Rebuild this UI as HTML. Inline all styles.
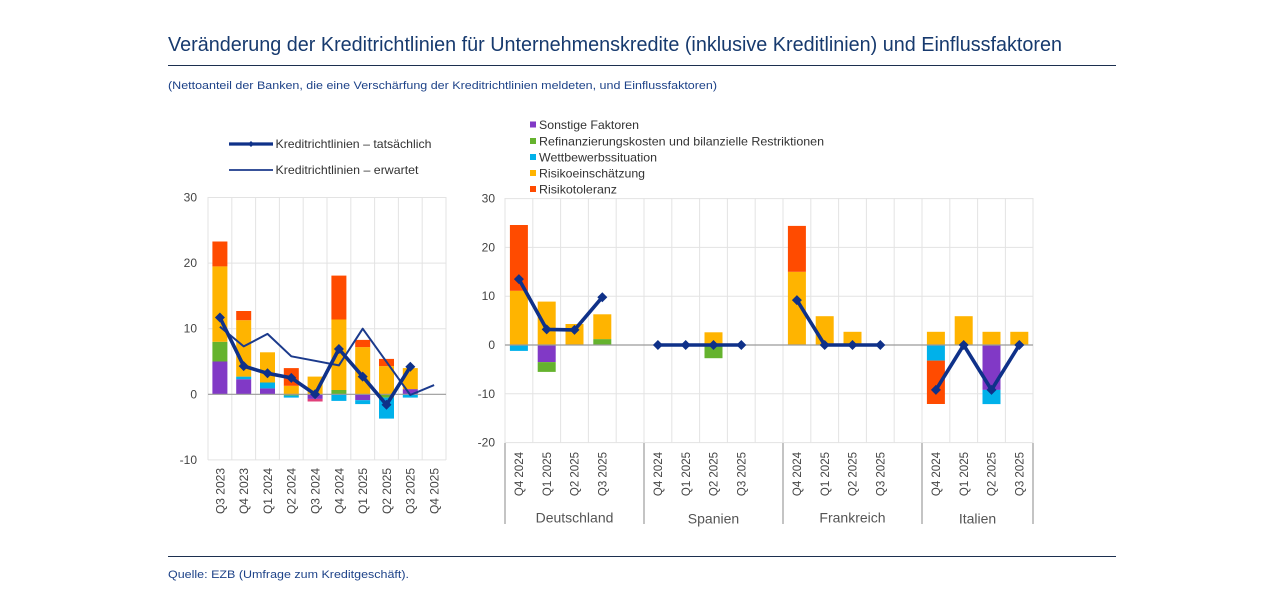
<!DOCTYPE html>
<html><head><meta charset="utf-8"><style>
html,body{margin:0;padding:0;background:#fff;}
svg{display:block;}
text{font-family:"Liberation Sans",Arial,sans-serif;}
</style></head><body>
<svg width="1280" height="615" viewBox="0 0 1280 615" xmlns="http://www.w3.org/2000/svg">
<rect width="1280" height="615" fill="#fff"/>
<!-- Header -->
<text x="168" y="51" font-size="20" fill="#173a6e" textLength="894" lengthAdjust="spacingAndGlyphs">Veränderung der Kreditrichtlinien für Unternehmenskredite (inklusive Kreditlinien) und Einflussfaktoren</text>
<line x1="168" y1="65.5" x2="1116" y2="65.5" stroke="#1c2f4f" stroke-width="1"/>
<text x="168" y="89" font-size="11" fill="#1d4288" textLength="549" lengthAdjust="spacingAndGlyphs">(Nettoanteil der Banken, die eine Verschärfung der Kreditrichtlinien meldeten, und Einflussfaktoren)</text>
<line x1="168" y1="556.5" x2="1116" y2="556.5" stroke="#1c2f4f" stroke-width="1"/>
<text x="168" y="578" font-size="11" fill="#1d4288" textLength="241" lengthAdjust="spacingAndGlyphs">Quelle: EZB (Umfrage zum Kreditgeschäft).</text>

<!-- LEFT CHART -->
<g stroke="#e3e3e3" stroke-width="1">
<line x1="208" y1="197.5" x2="446" y2="197.5"/>
<line x1="208" y1="263.1" x2="446" y2="263.1"/>
<line x1="208" y1="328.7" x2="446" y2="328.7"/>
<line x1="208" y1="459.9" x2="446" y2="459.9"/>
<line x1="208" y1="197" x2="208" y2="460"/>
<line x1="231.8" y1="197" x2="231.8" y2="460"/>
<line x1="255.6" y1="197" x2="255.6" y2="460"/>
<line x1="279.4" y1="197" x2="279.4" y2="460"/>
<line x1="303.2" y1="197" x2="303.2" y2="460"/>
<line x1="327" y1="197" x2="327" y2="460"/>
<line x1="350.8" y1="197" x2="350.8" y2="460"/>
<line x1="374.6" y1="197" x2="374.6" y2="460"/>
<line x1="398.4" y1="197" x2="398.4" y2="460"/>
<line x1="422.2" y1="197" x2="422.2" y2="460"/>
<line x1="446" y1="197" x2="446" y2="460"/>
</g>
<g font-size="12" fill="#444" text-anchor="end">
<text x="197" y="201.5">30</text>
<text x="197" y="267">20</text>
<text x="197" y="332.7">10</text>
<text x="197" y="398.3">0</text>
<text x="197" y="464">-10</text>
</g>
<!-- left bars -->
<g>
<rect x="212.4" y="361.5" width="15" height="32.8" fill="#8139c6"/>
<rect x="212.4" y="341.8" width="15" height="19.7" fill="#65b32e"/>
<rect x="212.4" y="266.4" width="15" height="75.4" fill="#ffb400"/>
<rect x="212.4" y="241.5" width="15" height="24.9" fill="#ff4b00"/>

<rect x="236.2" y="379.2" width="15" height="15.1" fill="#8139c6"/>
<rect x="236.2" y="376.6" width="15" height="2.6" fill="#00b1ea"/>
<rect x="236.2" y="320.2" width="15" height="56.4" fill="#ffb400"/>
<rect x="236.2" y="311.0" width="15" height="9.2" fill="#ff4b00"/>

<rect x="260" y="388.4" width="15" height="5.9" fill="#8139c6"/>
<rect x="260" y="382.5" width="15" height="5.9" fill="#00b1ea"/>
<rect x="260" y="352.3" width="15" height="30.2" fill="#ffb400"/>

<rect x="283.8" y="385.8" width="15" height="8.5" fill="#ffb400"/>
<rect x="283.8" y="368.1" width="15" height="17.7" fill="#ff4b00"/>
<rect x="283.8" y="394.3" width="15" height="1.3" fill="#65b32e"/>
<rect x="283.8" y="395.6" width="15" height="2.0" fill="#00b1ea"/>

<rect x="307.6" y="376.6" width="15" height="17.7" fill="#ffb400"/>
<rect x="307.6" y="394.3" width="15" height="4.6" fill="#8139c6"/>
<rect x="307.6" y="398.9" width="15" height="2.6" fill="#e0407a"/>

<rect x="331.4" y="390.0" width="15" height="4.3" fill="#65b32e"/>
<rect x="331.4" y="319.5" width="15" height="70.5" fill="#ffb400"/>
<rect x="331.4" y="275.6" width="15" height="43.9" fill="#ff4b00"/>
<rect x="331.4" y="394.3" width="15" height="6.6" fill="#00b1ea"/>

<rect x="355.2" y="347.1" width="15" height="47.2" fill="#ffb400"/>
<rect x="355.2" y="339.9" width="15" height="7.2" fill="#ff4b00"/>
<rect x="355.2" y="394.3" width="15" height="5.9" fill="#8139c6"/>
<rect x="355.2" y="400.2" width="15" height="3.9" fill="#00b1ea"/>

<rect x="379" y="366.1" width="15" height="28.2" fill="#ffb400"/>
<rect x="379" y="358.9" width="15" height="7.2" fill="#ff4b00"/>
<rect x="379" y="394.3" width="15" height="3.3" fill="#65b32e"/>
<rect x="379" y="397.6" width="15" height="21.0" fill="#00b1ea"/>

<rect x="402.8" y="389.1" width="15" height="5.2" fill="#8139c6"/>
<rect x="402.8" y="368.1" width="15" height="21.0" fill="#ffb400"/>
<rect x="402.8" y="394.3" width="15" height="3.3" fill="#00b1ea"/>
</g>
<line x1="208" y1="394.3" x2="446" y2="394.3" stroke="#9a9a9a" stroke-width="1.2"/>
<!-- expected line -->
<polyline fill="none" stroke="#1b3a8c" stroke-width="2" stroke-linejoin="round" points="219.9,326.7 243.7,346.4 267.5,333.9 291.3,356.3 315.1,360.8 338.9,365.4 362.7,328.7 386.5,361.8 410.3,395.0 434.1,385.1"/>
<!-- actual line -->
<polyline fill="none" stroke="#0f3189" stroke-width="3.6" stroke-linejoin="round" points="219.9,317.5 243.7,366.1 267.5,373.3 291.3,377.9 315.1,394.3 338.9,349.0 362.7,376.6 386.5,404.8 410.3,366.8"/>
<g fill="#0f3189">
<path d="M219.9,312.5 L224.9,317.5 L219.9,322.5 L214.9,317.5Z"/>
<path d="M243.7,361.1 L248.7,366.1 L243.7,371.1 L238.7,366.1Z"/>
<path d="M267.5,368.3 L272.5,373.3 L267.5,378.3 L262.5,373.3Z"/>
<path d="M291.3,372.9 L296.3,377.9 L291.3,382.9 L286.3,377.9Z"/>
<path d="M315.1,389.3 L320.1,394.3 L315.1,399.3 L310.1,394.3Z"/>
<path d="M338.9,344.0 L343.9,349.0 L338.9,354.0 L333.9,349.0Z"/>
<path d="M362.7,371.6 L367.7,376.6 L362.7,381.6 L357.7,376.6Z"/>
<path d="M386.5,399.8 L391.5,404.8 L386.5,409.8 L381.5,404.8Z"/>
<path d="M410.3,361.8 L415.3,366.8 L410.3,371.8 L405.3,366.8Z"/>
</g>
<!-- left x labels -->
<g font-size="12" fill="#444" text-anchor="end">
<text transform="translate(224.3,468) rotate(-90)">Q3 2023</text>
<text transform="translate(248.1,468) rotate(-90)">Q4 2023</text>
<text transform="translate(271.9,468) rotate(-90)">Q1 2024</text>
<text transform="translate(295.7,468) rotate(-90)">Q2 2024</text>
<text transform="translate(319.5,468) rotate(-90)">Q3 2024</text>
<text transform="translate(343.3,468) rotate(-90)">Q4 2024</text>
<text transform="translate(367.1,468) rotate(-90)">Q1 2025</text>
<text transform="translate(390.9,468) rotate(-90)">Q2 2025</text>
<text transform="translate(414.7,468) rotate(-90)">Q3 2025</text>
<text transform="translate(438.5,468) rotate(-90)">Q4 2025</text>
</g>
<!-- left legend -->
<line x1="229" y1="144" x2="273" y2="144" stroke="#0f3189" stroke-width="3.2"/>
<path d="M251,141 L254,144 L251,147 L248,144Z" fill="#0f3189"/>
<text x="275.5" y="148" font-size="12" fill="#333" textLength="156" lengthAdjust="spacingAndGlyphs">Kreditrichtlinien – tatsächlich</text>
<line x1="229" y1="170" x2="273" y2="170" stroke="#1b3a8c" stroke-width="1.8"/>
<text x="275.5" y="174" font-size="12" fill="#333" textLength="143" lengthAdjust="spacingAndGlyphs">Kreditrichtlinien – erwartet</text>

<!-- RIGHT CHART -->
<g stroke="#e3e3e3" stroke-width="1">
<line x1="505" y1="198.6" x2="1033" y2="198.6"/>
<line x1="505" y1="247.4" x2="1033" y2="247.4"/>
<line x1="505" y1="296.2" x2="1033" y2="296.2"/>
<line x1="505" y1="393.8" x2="1033" y2="393.8"/>
<line x1="505" y1="442.6" x2="1033" y2="442.6"/>
<line x1="532.8" y1="198" x2="532.8" y2="443"/>
<line x1="560.6" y1="198" x2="560.6" y2="443"/>
<line x1="588.4" y1="198" x2="588.4" y2="443"/>
<line x1="616.2" y1="198" x2="616.2" y2="443"/>
<line x1="671.8" y1="198" x2="671.8" y2="443"/>
<line x1="699.6" y1="198" x2="699.6" y2="443"/>
<line x1="727.4" y1="198" x2="727.4" y2="443"/>
<line x1="755.2" y1="198" x2="755.2" y2="443"/>
<line x1="810.8" y1="198" x2="810.8" y2="443"/>
<line x1="838.6" y1="198" x2="838.6" y2="443"/>
<line x1="866.4" y1="198" x2="866.4" y2="443"/>
<line x1="894.2" y1="198" x2="894.2" y2="443"/>
<line x1="949.8" y1="198" x2="949.8" y2="443"/>
<line x1="977.6" y1="198" x2="977.6" y2="443"/>
<line x1="1005.4" y1="198" x2="1005.4" y2="443"/>
<line x1="644" y1="198" x2="644" y2="443"/>
<line x1="783" y1="198" x2="783" y2="443"/>
<line x1="922" y1="198" x2="922" y2="443"/>
<line x1="505" y1="198" x2="505" y2="443"/>
<line x1="1033" y1="198" x2="1033" y2="443"/>
</g>
<g stroke="#a5a5a5" stroke-width="1.3">
<line x1="505" y1="443" x2="505" y2="524"/>
<line x1="644" y1="443" x2="644" y2="524"/>
<line x1="783" y1="443" x2="783" y2="524"/>
<line x1="922" y1="443" x2="922" y2="524"/>
<line x1="1033" y1="443" x2="1033" y2="524"/>
</g>
<g font-size="12" fill="#444" text-anchor="end">
<text x="495" y="202.6">30</text>
<text x="495" y="251.4">20</text>
<text x="495" y="300.2">10</text>
<text x="495" y="349">0</text>
<text x="495" y="397.8">-10</text>
<text x="495" y="446.6">-20</text>
</g>
<!-- right bars -->
<g>
<rect x="509.9" y="290.8" width="18" height="54.2" fill="#ffb400"/>
<rect x="509.9" y="225.0" width="18" height="65.8" fill="#ff4b00"/>
<rect x="509.9" y="345" width="18" height="5.9" fill="#00b1ea"/>

<rect x="537.7" y="301.6" width="18" height="43.4" fill="#ffb400"/>
<rect x="537.7" y="345" width="18" height="17.1" fill="#8139c6"/>
<rect x="537.7" y="362.1" width="18" height="9.8" fill="#65b32e"/>

<rect x="565.5" y="324.0" width="18" height="21.0" fill="#ffb400"/>

<rect x="593.3" y="339.1" width="18" height="5.9" fill="#65b32e"/>
<rect x="593.3" y="314.3" width="18" height="24.8" fill="#ffb400"/>

<rect x="704.5" y="332.3" width="18" height="12.7" fill="#ffb400"/>
<rect x="704.5" y="345" width="18" height="13.2" fill="#65b32e"/>

<rect x="787.9" y="271.8" width="18" height="73.2" fill="#ffb400"/>
<rect x="787.9" y="225.9" width="18" height="45.9" fill="#ff4b00"/>
<rect x="815.7" y="316.2" width="18" height="28.8" fill="#ffb400"/>
<rect x="843.5" y="331.8" width="18" height="13.2" fill="#ffb400"/>

<rect x="926.9" y="331.8" width="18" height="13.2" fill="#ffb400"/>
<rect x="926.9" y="345" width="18" height="15.6" fill="#00b1ea"/>
<rect x="926.9" y="360.6" width="18" height="43.4" fill="#ff4b00"/>
<rect x="954.7" y="316.2" width="18" height="28.8" fill="#ffb400"/>
<rect x="982.5" y="331.8" width="18" height="13.2" fill="#ffb400"/>
<rect x="982.5" y="345" width="18" height="44.9" fill="#8139c6"/>
<rect x="982.5" y="389.9" width="18" height="14.2" fill="#00b1ea"/>
<rect x="1010.3" y="331.8" width="18" height="13.2" fill="#ffb400"/>
</g>
<line x1="505" y1="345" x2="1033" y2="345" stroke="#9a9a9a" stroke-width="1.2"/>
<g fill="none" stroke="#0f3189" stroke-width="3.6" stroke-linejoin="round">
<polyline points="518.9,279.1 546.7,329.4 574.5,329.9 602.3,297.2"/>
<polyline points="657.9,345 685.7,345 713.5,345 741.3,345"/>
<polyline points="796.9,300.1 824.7,345 852.5,345 880.3,345"/>
<polyline points="935.9,389.9 963.7,345 991.5,389.9 1019.3,345"/>
</g>
<g fill="#0f3189">
<path d="M518.9,274.1 L523.9,279.1 L518.9,284.1 L513.9,279.1Z"/>
<path d="M546.7,324.4 L551.7,329.4 L546.7,334.4 L541.7,329.4Z"/>
<path d="M574.5,324.9 L579.5,329.9 L574.5,334.9 L569.5,329.9Z"/>
<path d="M602.3,292.2 L607.3,297.2 L602.3,302.2 L597.3,297.2Z"/>
<path d="M657.9,340 L662.9,345 L657.9,350 L652.9,345Z"/>
<path d="M685.7,340 L690.7,345 L685.7,350 L680.7,345Z"/>
<path d="M713.5,340 L718.5,345 L713.5,350 L708.5,345Z"/>
<path d="M741.3,340 L746.3,345 L741.3,350 L736.3,345Z"/>
<path d="M796.9,295.1 L801.9,300.1 L796.9,305.1 L791.9,300.1Z"/>
<path d="M824.7,340 L829.7,345 L824.7,350 L819.7,345Z"/>
<path d="M852.5,340 L857.5,345 L852.5,350 L847.5,345Z"/>
<path d="M880.3,340 L885.3,345 L880.3,350 L875.3,345Z"/>
<path d="M935.9,384.9 L940.9,389.9 L935.9,394.9 L930.9,389.9Z"/>
<path d="M963.7,340 L968.7,345 L963.7,350 L958.7,345Z"/>
<path d="M991.5,384.9 L996.5,389.9 L991.5,394.9 L986.5,389.9Z"/>
<path d="M1019.3,340 L1024.3,345 L1019.3,350 L1014.3,345Z"/>
</g>
<!-- right x labels -->
<g font-size="11.5" fill="#444" text-anchor="end">
<text transform="translate(523.1,452) rotate(-90)">Q4 2024</text>
<text transform="translate(550.9,452) rotate(-90)">Q1 2025</text>
<text transform="translate(578.7,452) rotate(-90)">Q2 2025</text>
<text transform="translate(606.5,452) rotate(-90)">Q3 2025</text>
<text transform="translate(662.1,452) rotate(-90)">Q4 2024</text>
<text transform="translate(689.9,452) rotate(-90)">Q1 2025</text>
<text transform="translate(717.7,452) rotate(-90)">Q2 2025</text>
<text transform="translate(745.5,452) rotate(-90)">Q3 2025</text>
<text transform="translate(801.1,452) rotate(-90)">Q4 2024</text>
<text transform="translate(828.9,452) rotate(-90)">Q1 2025</text>
<text transform="translate(856.7,452) rotate(-90)">Q2 2025</text>
<text transform="translate(884.5,452) rotate(-90)">Q3 2025</text>
<text transform="translate(940.1,452) rotate(-90)">Q4 2024</text>
<text transform="translate(967.9,452) rotate(-90)">Q1 2025</text>
<text transform="translate(995.7,452) rotate(-90)">Q2 2025</text>
<text transform="translate(1023.5,452) rotate(-90)">Q3 2025</text>
</g>
<g font-size="14" fill="#555" text-anchor="middle">
<text x="574.5" y="522.5">Deutschland</text>
<text x="713.5" y="523.5">Spanien</text>
<text x="852.5" y="522.5">Frankreich</text>
<text x="977.5" y="523.5">Italien</text>
</g>
<!-- right legend -->
<rect x="530" y="121.5" width="6" height="6" fill="#8139c6"/>
<text x="539" y="129" font-size="12" fill="#333" textLength="100" lengthAdjust="spacingAndGlyphs">Sonstige Faktoren</text>
<rect x="530" y="138" width="6" height="6" fill="#65b32e"/>
<text x="539" y="145.5" font-size="12" fill="#333" textLength="285" lengthAdjust="spacingAndGlyphs">Refinanzierungskosten und bilanzielle Restriktionen</text>
<rect x="530" y="154" width="6" height="6" fill="#00b1ea"/>
<text x="539" y="161.5" font-size="12" fill="#333" textLength="118" lengthAdjust="spacingAndGlyphs">Wettbewerbssituation</text>
<rect x="530" y="170" width="6" height="6" fill="#ffb400"/>
<text x="539" y="177.5" font-size="12" fill="#333" textLength="106" lengthAdjust="spacingAndGlyphs">Risikoeinschätzung</text>
<rect x="530" y="186" width="6" height="6" fill="#ff4b00"/>
<text x="539" y="193.5" font-size="12" fill="#333" textLength="78" lengthAdjust="spacingAndGlyphs">Risikotoleranz</text>
</svg>
</body></html>
